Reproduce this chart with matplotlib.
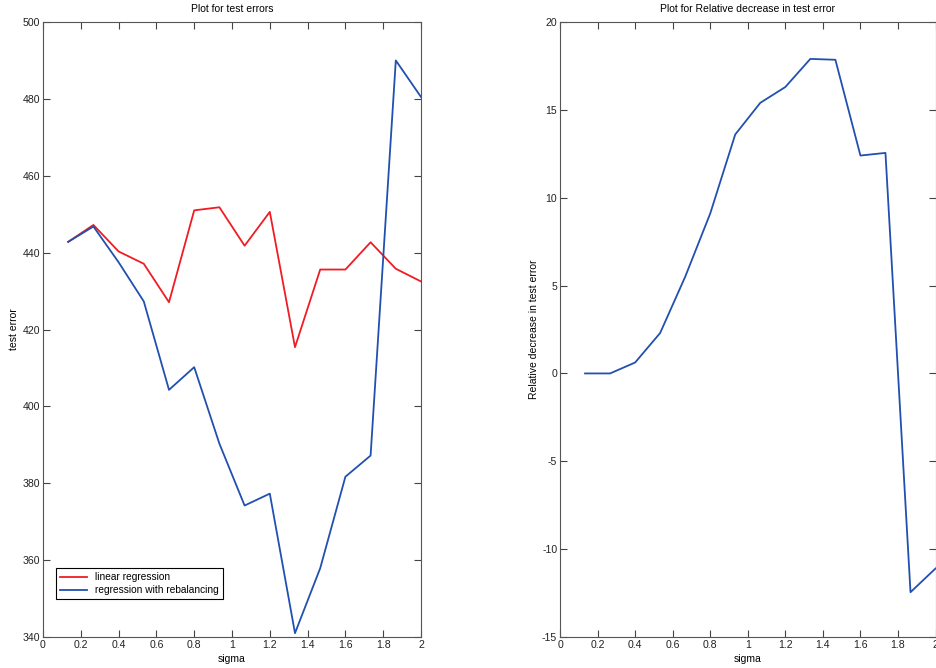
import numpy as np
import matplotlib
matplotlib.use("Agg")
import matplotlib.pyplot as plt

plt.rcParams['font.family'] = ['Liberation Sans', 'DejaVu Sans']
plt.rcParams['axes.unicode_minus'] = False

sigma = [0.1333, 0.2667, 0.4, 0.5333, 0.6667, 0.8, 0.9333, 1.0667,
         1.2, 1.3333, 1.4667, 1.6, 1.7333, 1.8667, 2.0]
err_linear = [442.8, 447.2, 440.3, 437.1, 427.1, 451.0, 451.8, 441.8,
              450.6, 415.4, 435.6, 435.6, 442.7, 435.8, 432.5]
err_rebal = [442.8, 446.8, 437.5, 427.3, 404.3, 410.2, 390.3, 374.2,
             377.3, 341.0, 357.9, 381.7, 387.2, 490.0, 480.5]
rel_decrease = [0.0, 0.0, 0.62, 2.3, 5.5, 9.1, 13.6, 15.4,
                16.3, 17.9, 17.85, 12.4, 12.55, -12.45, -11.1]

red = '#f01c24'
blue = '#2150b0'
xlabels = ['0', '0.2', '0.4', '0.6', '0.8', '1', '1.2', '1.4', '1.6', '1.8', '2']

fig = plt.figure(figsize=(9.36, 6.68), dpi=100)
ax1 = fig.add_axes([43/936, 1-637/668, (421-43)/936, (637-22)/668])
ax2 = fig.add_axes([560/936, 1-637/668, (936-560)/936 - 0.0005, (637-22)/668])

ax1.plot(sigma, err_linear, color=red, lw=1.3, label='linear regression')
ax1.plot(sigma, err_rebal, color=blue, lw=1.3, label='regression with rebalancing')
ax1.set_xlim(0, 2)
ax1.set_ylim(340, 500)
ax1.set_xticks(np.arange(0, 2.01, 0.2))
ax1.set_xticklabels(xlabels)
ax1.set_yticks(np.arange(340, 501, 20))
ax1.set_title('Plot for test errors', fontsize=7.5, pad=7)
ax1.set_xlabel('sigma', fontsize=7.5, labelpad=3)
ax1.set_ylabel('test error', fontsize=7.5, labelpad=3)
leg = ax1.legend(loc='lower left', bbox_to_anchor=(0.022, 0.053), fontsize=7.3,
                 fancybox=False, framealpha=1, edgecolor='black',
                 handlelength=2.6, borderpad=0.4, labelspacing=0.3)
leg.get_frame().set_linewidth(0.8)

ax2.plot(sigma, rel_decrease, color=blue, lw=1.3)
ax2.set_xlim(0, 2)
ax2.set_ylim(-15, 20)
ax2.set_xticks(np.arange(0, 2.01, 0.2))
ax2.set_xticklabels(xlabels)
ax2.set_yticks(np.arange(-15, 21, 5))
ax2.set_title('Plot for Relative decrease in test error', fontsize=7.5, pad=7)
ax2.set_xlabel('sigma', fontsize=7.5, labelpad=3)
ax2.set_ylabel('Relative decrease in test error', fontsize=7.5, labelpad=2)

for ax in (ax1, ax2):
    ax.tick_params(direction='in', top=True, right=True, length=5, width=0.8,
                   labelsize=7.6, color='#444444', labelcolor='#222222', pad=2)
    for s in ax.spines.values():
        s.set_color('#555555')
        s.set_linewidth(0.8)

fig.savefig('out.png', dpi=100)
